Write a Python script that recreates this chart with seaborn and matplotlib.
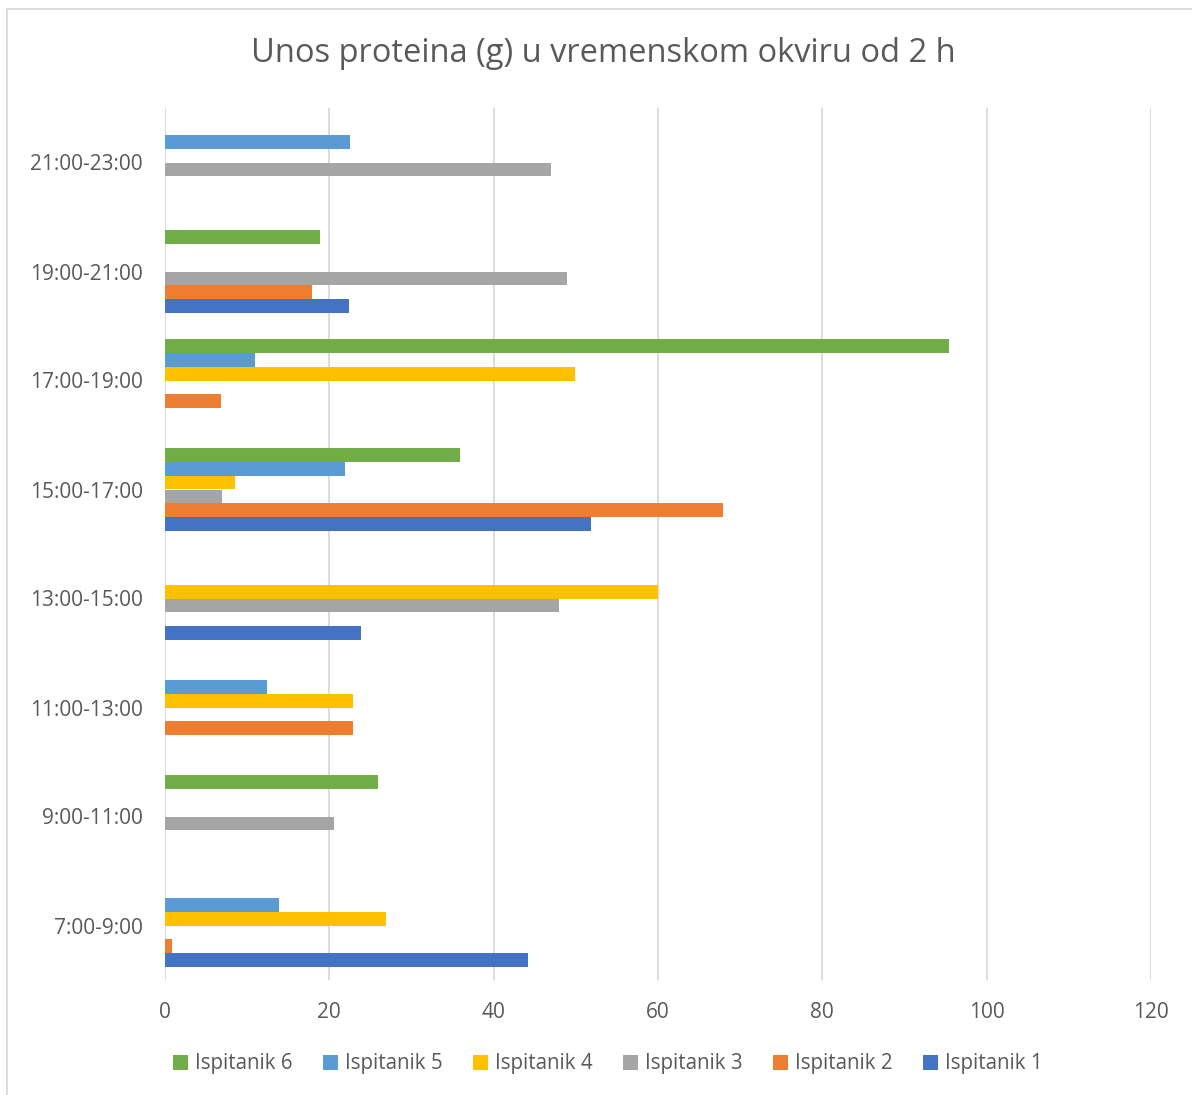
import pandas as pd
import numpy as np
import matplotlib
matplotlib.use("Agg")
import matplotlib.pyplot as plt
from matplotlib.patches import Rectangle
import seaborn as sns

# time slots, top to bottom as shown
slots = ['21:00-23:00', '19:00-21:00', '17:00-19:00', '15:00-17:00',
         '13:00-15:00', '11:00-13:00', '9:00-11:00', '7:00-9:00']
subjects = ['Ispitanik 6', 'Ispitanik 5', 'Ispitanik 4',
            'Ispitanik 3', 'Ispitanik 2', 'Ispitanik 1']

# protein intake (g) per subject, values in the order of `slots`
isp1 = [0, 22.4, 0, 51.9, 23.9, 0, 0, 44.2]
isp2 = [0, 17.9, 6.8, 67.9, 0, 22.9, 0, 0.9]
isp3 = [47.0, 48.9, 0, 6.9, 48.0, 0, 20.6, 0]
isp4 = [0, 0, 49.9, 8.5, 60.0, 22.9, 0, 26.9]
isp5 = [22.5, 0, 10.9, 21.9, 0, 12.4, 0, 13.9]
isp6 = [0, 18.9, 95.4, 35.9, 0, 0, 25.9, 0]

colors = {'Ispitanik 1': '#4472C4', 'Ispitanik 2': '#ED7D31',
          'Ispitanik 3': '#A5A5A5', 'Ispitanik 4': '#FFC000',
          'Ispitanik 5': '#5B9BD5', 'Ispitanik 6': '#70AD47'}

series = {'Ispitanik 1': isp1, 'Ispitanik 2': isp2, 'Ispitanik 3': isp3,
          'Ispitanik 4': isp4, 'Ispitanik 5': isp5, 'Ispitanik 6': isp6}
rows = []
for name, vals in series.items():
    for slot, v in zip(slots, vals):
        rows.append({'Slot': slot, 'Ispitanik': name, 'Protein': v})
df = pd.DataFrame(rows)

sns.set_style('white')
plt.rcParams['font.family'] = ['Open Sans', 'DejaVu Sans']
txt = '#595959'

fig = plt.figure(figsize=(11.92, 10.95), dpi=100)
ax = fig.add_axes([165 / 1192, 115 / 1095, 986 / 1192, 872 / 1095])

sns.barplot(data=df, y='Slot', x='Protein', hue='Ispitanik', order=slots,
            hue_order=subjects, palette=colors, orient='h', width=0.77,
            saturation=1, linewidth=0, errorbar=None, ax=ax)

ax.set_xlim(0, 120)
ax.set_xticks(np.arange(0, 121, 20))
ax.xaxis.grid(True, color='#D9D9D9', linewidth=1.3)
ax.set_axisbelow(True)
for s in ax.spines.values():
    s.set_visible(False)
ax.set_xlabel('')
ax.set_ylabel('')
ax.tick_params(axis='both', length=0, labelsize=15, labelcolor=txt)
ax.tick_params(axis='y', pad=16)
ax.tick_params(axis='x', pad=16)

fig.text(603 / 1192, 1 - 54 / 1095, 'Unos proteina (g) u vremenskom okviru od 2 h',
         ha='center', va='center', fontsize=23.5, color=txt)

ax.legend(loc='center', bbox_to_anchor=(608 / 1192, 1 - 1064 / 1095),
          bbox_transform=fig.transFigure, ncol=6, frameon=False,
          fontsize=14.8, labelcolor=txt, handlelength=0.7, handleheight=0.7,
          handletextpad=0.35, columnspacing=1.5)

fig.patches.append(Rectangle((7 / 1192, -0.05), 1.2, 1 - 9 / 1095 + 0.05,
                             transform=fig.transFigure, fill=False,
                             edgecolor='#D9D9D9', linewidth=1.3))

fig.savefig('out.png', dpi=100)
